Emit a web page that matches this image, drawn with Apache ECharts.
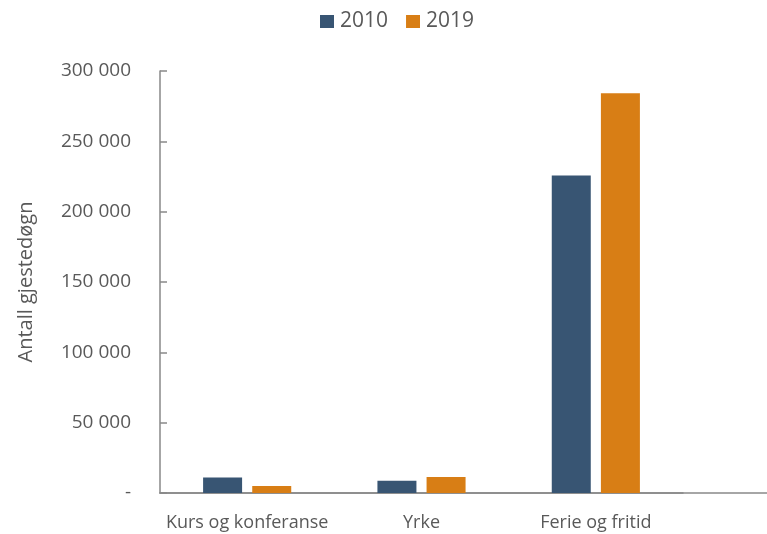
<!DOCTYPE html>
<html><head><meta charset="utf-8">
<script src="https://cdn.jsdelivr.net/npm/echarts@6/dist/echarts.min.js"></script>
<style>html,body{margin:0;padding:0;background:#fff}#c{width:767px;height:534px}</style>
</head><body><div id="c"></div>
<script>
const categories = ['Kurs og konferanse', 'Yrke', 'Ferie og fritid'];
const series2010 = [11000, 8700, 225700];
const series2019 = [5000, 11300, 284200];
const seriesNames = ['2010', '2019'];
const yTicks = [0, 50000, 100000, 150000, 200000, 250000, 300000];

const FONT = 'Open Sans';
const TXT = '#595959';
const AX = '#898989';
function fmt(v){ if(v===0) return '-'; return String(v).replace(/\B(?=(\d{3})+(?!\d))/g,' '); }

const chart = echarts.init(document.getElementById('c'));
chart.setOption({
  animation:false,
  textStyle:{fontFamily:FONT},
  legend:{
    top:6, left:315, itemWidth:14, itemHeight:13, itemGap:18,
    icon:'rect',
    textStyle:{fontSize:21, color:TXT, fontFamily:FONT, padding:[0,0,0,1]},
    data:seriesNames
  },
  grid:[
    {left:160, right:84, top:71, bottom:41, containLabel:false},
    {left:160, right:-10, top:71, bottom:41, containLabel:false}
  ],
  xAxis:[
    {type:'category', data:categories, gridIndex:0,
     axisLine:{lineStyle:{color:AX,width:1.5}}, axisTick:{show:false},
     axisLabel:{fontSize:18, color:TXT, margin:21, fontFamily:FONT, interval:0}},
    {type:'value', gridIndex:1, min:0, max:1,
     axisLine:{show:true, lineStyle:{color:AX,width:1.5}}, axisTick:{show:false},
     axisLabel:{show:false}, splitLine:{show:false}}
  ],
  yAxis:[
    {type:'value', gridIndex:0, min:yTicks[0], max:yTicks[yTicks.length-1], interval:50000,
     name:'Antall gjestedøgn', nameLocation:'middle', nameRotate:90, nameGap:124,
     nameTextStyle:{fontSize:20, color:TXT, fontFamily:FONT},
     axisLine:{show:true, lineStyle:{color:AX,width:1.5}},
     axisTick:{show:true, inside:true, length:7, lineStyle:{color:AX,width:1.5}},
     axisLabel:{fontSize:19, color:TXT, margin:29, fontFamily:FONT, formatter:fmt},
     splitLine:{show:false}},
    {type:'value', gridIndex:1, show:false, min:0, max:1}
  ],
  series:[
    {name:seriesNames[0], type:'bar', data:series2010, barWidth:39, barGap:'26%',
     itemStyle:{color:'#385573'}},
    {name:seriesNames[1], type:'bar', data:series2019, barWidth:39, barGap:'26%',
     itemStyle:{color:'#D87E15'}}
  ]
});
</script></body></html>
